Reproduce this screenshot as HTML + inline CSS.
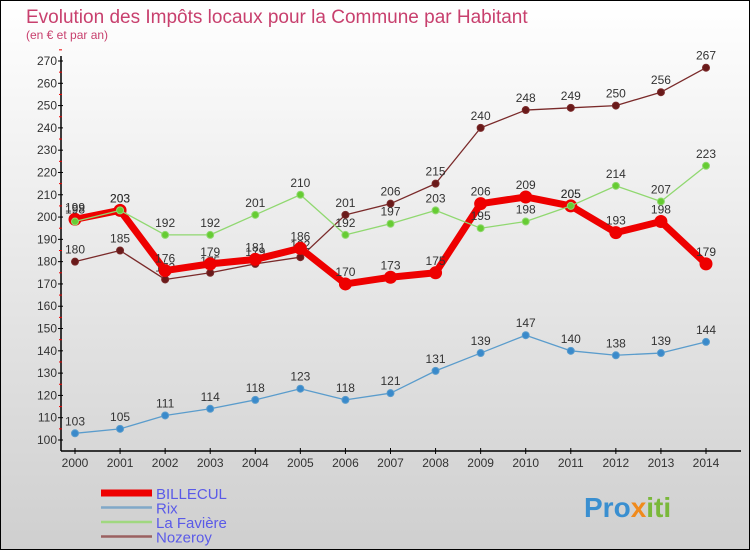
<!DOCTYPE html>
<html><head><meta charset="utf-8"><style>
html,body{margin:0;padding:0}
body{width:750px;height:550px;overflow:hidden;font-family:"Liberation Sans",sans-serif}
#wrap{position:relative;width:748px;height:548px;border:1px solid #000;background:linear-gradient(#ffffff,#cfcfcf)}
</style></head><body>
<div id="wrap">
<svg id="chart" width="748" height="548" font-family="Liberation Sans, sans-serif">
<text x="25" y="22" font-size="19" fill="#c8406e">Evolution des Impôts locaux pour la Commune par Habitant</text>
<text x="25" y="38" font-size="12" fill="#c8406e">(en € et par an)</text>
<g id="axes"></g>
<g id="series"></g>
<g id="legend"></g>
<text x="583" y="516" font-size="28" font-weight="bold"><tspan fill="#3a8fd0">Pro</tspan><tspan fill="#f08a1c">x</tspan><tspan fill="#7ab83a">iti</tspan></text>
</svg>
</div>
<script>
const years=[2000,2001,2002,2003,2004,2005,2006,2007,2008,2009,2010,2011,2012,2013,2014];
const billecul=[199,203,176,179,181,186,170,173,175,206,209,205,193,198,179];
const rix=[103,105,111,114,118,123,118,121,131,139,147,140,138,139,144];
const laFaviere=[198,203,192,192,201,210,192,197,203,195,198,205,214,207,223];
const nozeroy=[180,185,172,175,179,182,201,206,215,240,248,249,250,256,267];
const yTicks=[100,110,120,130,140,150,160,170,180,190,200,210,220,230,240,250,260,270];
const NS="http://www.w3.org/2000/svg";
const x=i=>74+i*(705-74)/(years.length-1);
const y=v=>439-(v-100)*(439-60)/170;
function mk(t,a,p){const e=document.createElementNS(NS,t);for(const k in a)e.setAttribute(k,a[k]);p.appendChild(e);return e;}
const axes=document.getElementById('axes');
const yl=mk('line',{x1:60,y1:55,x2:60,y2:450,stroke:'#000','stroke-width':1.5},axes);


const xl=mk('line',{x1:60,y1:450,x2:740,y2:450,stroke:'#000','stroke-width':1.5},axes);


yTicks.forEach(v=>{
  mk('line',{x1:57,x2:62,y1:y(v),y2:y(v),stroke:'#000'},axes);
  mk('line',{x1:58,x2:61,y1:y(v+5),y2:y(v+5),stroke:'#e00'},axes);
  const t=mk('text',{x:56,y:y(v)+4,'text-anchor':'end','font-size':12,fill:'#333'},axes);
  t.textContent=v;
  
  
});
years.forEach((yr,i)=>{
  mk('line',{x1:x(i),x2:x(i),y1:447,y2:453,stroke:'#000'},axes);
  const t=mk('text',{x:x(i),y:466,'text-anchor':'middle','font-size':12,fill:'#333'},axes);
  t.textContent=yr;
  
  
});
const S=document.getElementById('series');
function draw(vals,name,color,lw,r,dot){
  const g=mk('g',{},S);
  
  
  const ln=mk('polyline',{points:vals.map((v,i)=>x(i)+','+y(v)).join(' '),fill:'none',stroke:color,'stroke-width':lw,'stroke-linejoin':'round'},g);
  
  
  vals.forEach((v,i)=>{
    const c=mk('circle',{cx:x(i),cy:y(v),r:r,fill:dot,stroke:color,'stroke-width':1},g);
    
    
    const t=mk('text',{x:x(i),y:y(v)-8,'text-anchor':'middle','font-size':12,fill:'#333'},g);
    t.textContent=v;
    
    
  });
}
draw(rix,'rix','#5a9ccc',1.3,3.5,'#3a8acb');
draw(nozeroy,'nozeroy','#7a2a2a',1.3,3.5,'#6a1a1a');
draw(billecul,'billecul','#ee0000',7,6,'#ee0000');
draw(laFaviere,'la-faviere','#90d870',1.3,3.5,'#66cc33');
const L=document.getElementById('legend');
const items=[['BILLECUL','#ee0000',7],['Rix','#80a8c8',2.5],['La Favière','#a0d880',2.5],['Nozeroy','#9a6060',2.5]];
items.forEach((it,k)=>{
  const yy=492+k*14.5;
  const l=mk('line',{x1:100,x2:151,y1:yy,y2:yy,stroke:it[1],'stroke-width':it[2]},L);
  
  
  const t=mk('text',{x:155,y:yy+6,'font-size':15,fill:'#5a5ae8'},L);
  t.textContent=it[0];
  
  
});
</script>
</body></html>
